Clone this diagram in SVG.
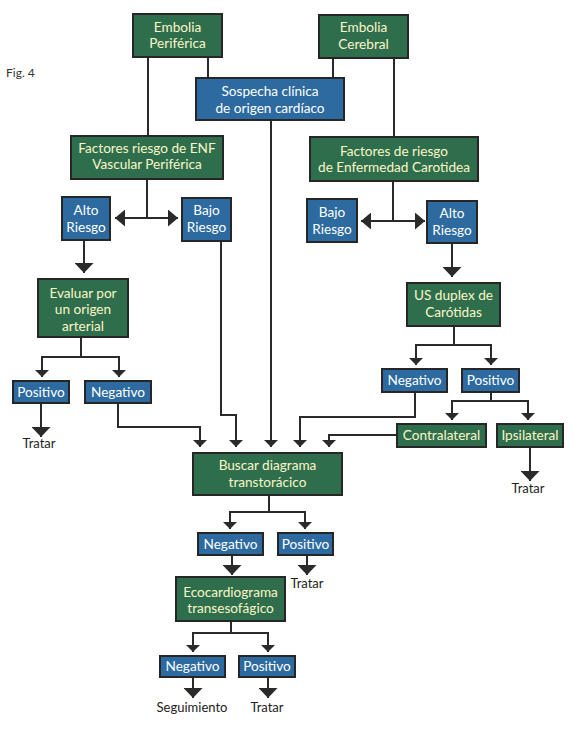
<svg xmlns="http://www.w3.org/2000/svg" width="574" height="739" viewBox="0 0 574 739">
<style>
.g rect{fill:#2e6e4c;stroke:#262626;stroke-width:2}
.b rect{fill:#2d6aa0;stroke:#262626;stroke-width:2}
.g text{fill:#fbf6c8}
.b text{fill:#ffffff}
text{font-family:Lato,"Open Sans",sans-serif;font-size:13.6px;text-anchor:middle}
.t{fill:#222;font-size:13px}
.c path{fill:none;stroke:#2a2a2a;stroke-width:2}
</style>
<defs>
<marker id="s" markerUnits="userSpaceOnUse" viewBox="0 0 7 14" markerWidth="7" markerHeight="14" refX="7" refY="7" orient="auto"><path d="M0,0 L7,7 L0,14z" fill="#2a2a2a"/></marker>
<marker id="L" markerUnits="userSpaceOnUse" viewBox="0 0 10 19" markerWidth="10" markerHeight="19" refX="10" refY="9.5" orient="auto"><path d="M0,0 L10,9.5 L0,19z" fill="#2a2a2a"/></marker>
<marker id="H" markerUnits="userSpaceOnUse" viewBox="0 0 10 17" markerWidth="10" markerHeight="17" refX="10" refY="8.5" orient="auto"><path d="M0,0 L10,8.5 L0,17z" fill="#2a2a2a"/></marker>
</defs>
<rect width="574" height="739" fill="#ffffff"/>
<text x="6" y="77" style="text-anchor:start;font-size:12px;fill:#333">Fig. 4</text>
<g id="connectors" class="c">
<path d="M148,57 V136"/>
<path d="M208,57 V78"/>
<path d="M333,58 V78"/>
<path d="M394,58 V137"/>
<path d="M147,179 V218"/>
<path d="M147,218 H115" marker-end="url(#H)"/>
<path d="M147,218 H178" marker-end="url(#H)"/>
<path d="M84,240 V273" marker-end="url(#L)"/>
<path d="M393,181 V221"/>
<path d="M393,221 H361" marker-end="url(#H)"/>
<path d="M393,221 H425" marker-end="url(#H)"/>
<path d="M452,243 V277" marker-end="url(#L)"/>
<path d="M454,326 V345 H416 V365" marker-end="url(#s)"/>
<path d="M454,345 H491 V365" marker-end="url(#s)"/>
<path d="M81,337 V357 H42 V377" marker-end="url(#s)"/>
<path d="M81,357 H119 V377" marker-end="url(#s)"/>
<path d="M41,403 V437" marker-end="url(#L)"/>
<path d="M118,403 V427 H200 V447" marker-end="url(#s)"/>
<path d="M221,241 V415 H236 V447" marker-end="url(#s)"/>
<path d="M271,120 V447" marker-end="url(#s)"/>
<path d="M415,392 V417 H300 V447" marker-end="url(#s)"/>
<path d="M491,392 V401 H452 V420" marker-end="url(#s)"/>
<path d="M491,401 H528 V420" marker-end="url(#s)"/>
<path d="M397,435 H329 V447" marker-end="url(#s)"/>
<path d="M530,447 V481" marker-end="url(#L)"/>
<path d="M269,495 V512 H230 V529" marker-end="url(#s)"/>
<path d="M269,512 H305 V529" marker-end="url(#s)"/>
<path d="M232,555 V575" marker-end="url(#L)"/>
<path d="M307,555 V575" marker-end="url(#L)"/>
<path d="M231,621 V633 H193 V652" marker-end="url(#s)"/>
<path d="M231,633 H268 V652" marker-end="url(#s)"/>
<path d="M193,677 V698" marker-end="url(#L)"/>
<path d="M268,677 V698" marker-end="url(#L)"/>
</g>
<g id="embolia-periferica" class="g"><rect x="133" y="14" width="89" height="43"/><text x="177.5" y="32">Embolia</text><text x="177.5" y="48">Periférica</text></g>
<g id="embolia-cerebral" class="g"><rect x="319" y="15" width="89" height="43"/><text x="363.5" y="32">Embolia</text><text x="363.5" y="49">Cerebral</text></g>
<g id="sospecha" class="b"><rect x="196" y="78" width="148" height="42"/><text x="270" y="96">Sospecha clínica</text><text x="270" y="113">de origen cardíaco</text></g>
<g id="factores-enf" class="g"><rect x="71" y="136" width="152" height="43"/><text x="147" y="153">Factores riesgo de ENF</text><text x="147" y="169">Vascular Periférica</text></g>
<g id="factores-carotidea" class="g"><rect x="310" y="137" width="168" height="44"/><text x="394" y="156">Factores de riesgo</text><text x="394" y="172">de Enfermedad Carotidea</text></g>
<g id="alto-riesgo-izq" class="b"><rect x="62" y="197" width="48" height="43"/><text x="86" y="215">Alto</text><text x="86" y="232">Riesgo</text></g>
<g id="bajo-riesgo-izq" class="b"><rect x="182" y="198" width="49" height="43"/><text x="206.5" y="215">Bajo</text><text x="206.5" y="232">Riesgo</text></g>
<g id="bajo-riesgo-der" class="b"><rect x="307" y="199" width="50" height="43"/><text x="332" y="217">Bajo</text><text x="332" y="234">Riesgo</text></g>
<g id="alto-riesgo-der" class="b"><rect x="427" y="201" width="50" height="42"/><text x="452" y="218">Alto</text><text x="452" y="235">Riesgo</text></g>
<g id="evaluar" class="g"><rect x="38" y="279" width="90" height="58"/><text x="83" y="298">Evaluar por</text><text x="83" y="314">un origen</text><text x="83" y="331">arterial</text></g>
<g id="us-duplex" class="g"><rect x="407" y="283" width="93" height="43"/><text x="453.5" y="300">US duplex de</text><text x="453.5" y="317">Carótidas</text></g>
<g id="positivo-izq" class="b"><rect x="13" y="381" width="56" height="22"/><text x="41" y="397">Positivo</text></g>
<g id="negativo-izq" class="b"><rect x="85" y="381" width="66" height="22"/><text x="118" y="397">Negativo</text></g>
<g id="negativo-der" class="b"><rect x="382" y="369" width="65" height="23"/><text x="414.5" y="385">Negativo</text></g>
<g id="positivo-der" class="b"><rect x="462" y="369" width="57" height="23"/><text x="490.5" y="385">Positivo</text></g>
<g id="contralateral" class="g"><rect x="397" y="424" width="89" height="23"/><text x="441.5" y="440">Contralateral</text></g>
<g id="ipsilateral" class="g"><rect x="497" y="424" width="66" height="23"/><text x="530" y="440">Ipsilateral</text></g>
<g id="buscar" class="g"><rect x="193" y="453" width="149" height="42"/><text x="267.5" y="470">Buscar diagrama</text><text x="267.5" y="487">transtorácico</text></g>
<g id="negativo-tt" class="b"><rect x="198" y="533" width="65" height="22"/><text x="230.5" y="549">Negativo</text></g>
<g id="positivo-tt" class="b"><rect x="278" y="533" width="55" height="22"/><text x="305.5" y="549">Positivo</text></g>
<g id="ecocardiograma" class="g"><rect x="176" y="577" width="109" height="44"/><text x="230.5" y="597">Ecocardiograma</text><text x="230.5" y="613">transesofágico</text></g>
<g id="negativo-te" class="b"><rect x="160" y="656" width="65" height="21"/><text x="192.5" y="671">Negativo</text></g>
<g id="positivo-te" class="b"><rect x="239" y="656" width="56" height="21"/><text x="267" y="671">Positivo</text></g>
<g id="outcomes">
<text class="t" x="39" y="448">Tratar</text>
<text class="t" x="528" y="493">Tratar</text>
<text class="t" x="307" y="588">Tratar</text>
<text class="t" x="192" y="712">Seguimiento</text>
<text class="t" x="267" y="712">Tratar</text>
</g>
</svg>
